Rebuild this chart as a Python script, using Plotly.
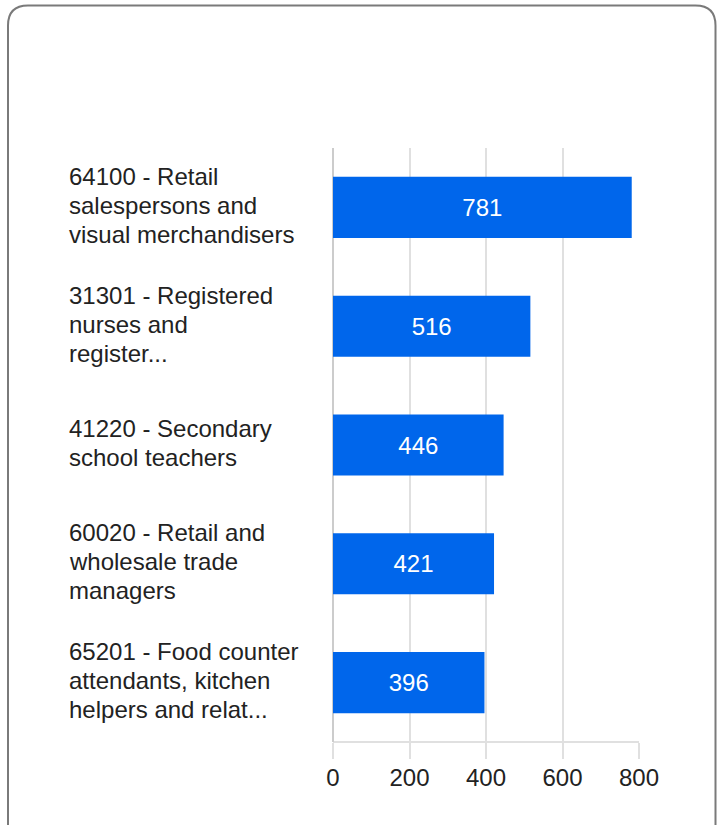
import plotly.graph_objects as go

categories = [
    "64100 - Retail<br>salespersons and<br>visual merchandisers",
    "31301 - Registered<br>nurses and<br>register...",
    "41220 - Secondary<br>school teachers",
    "60020 - Retail and<br>wholesale trade<br>managers",
    "65201 - Food counter<br>attendants, kitchen<br>helpers and relat...",
]
values = [781, 516, 446, 421, 396]
x_ticks = [0, 200, 400, 600, 800]

W, H = 717, 825
L, R, T, B = 333, 78, 148, 83
pw, ph = W - L - R, H - T - B
FONT = "Liberation Sans, Arial, sans-serif"

def px(x):
    return (x - L) / pw

def py(y):
    return 1 - (y - T) / ph

ids = [str(i) for i in range(len(categories))]

fig = go.Figure(go.Bar(
    y=ids, x=values, orientation="h",
    marker=dict(color="#0066EB", line=dict(width=0)),
    text=[str(v) for v in values], textposition="inside",
    insidetextanchor="middle",
    textfont=dict(color="white", size=24, family=FONT),
    hoverinfo="skip",
))

annotations = []
LH = 29
for i, lab in enumerate(categories):
    lines = lab.split("<br>")
    n = len(lines)
    for j, line in enumerate(lines):
        annotations.append(dict(
            x=px(67), xref="paper", y=ids[i], yref="y",
            text=line, showarrow=False, xanchor="left", align="left",
            yanchor="middle", yshift=((n - 1) / 2 - j) * LH + 2,
            font=dict(size=24, color="#222222", family=FONT),
        ))

# card border (rounded rectangle)
x0, y0, x1, y1, r = 8, 5.5, 715.5, 845, 20
path = (f"M {px(x0)},{py(y0 + r)} "
        f"Q {px(x0)},{py(y0)} {px(x0 + r)},{py(y0)} "
        f"L {px(x1 - r)},{py(y0)} "
        f"Q {px(x1)},{py(y0)} {px(x1)},{py(y0 + r)} "
        f"L {px(x1)},{py(y1)} L {px(x0)},{py(y1)} Z")

fig.update_layout(
    width=W, height=H,
    margin=dict(l=L, r=R, t=T, b=B, pad=0),
    paper_bgcolor="white", plot_bgcolor="white",
    bargap=0.486,
    showlegend=False,
    annotations=annotations,
    shapes=[dict(type="path", path=path, xref="paper", yref="paper",
                 line=dict(color="#7a7a7a", width=2), fillcolor="rgba(0,0,0,0)",
                 layer="below")],
    xaxis=dict(range=[0, 800], tickvals=x_ticks, ticktext=[str(t) for t in x_ticks],
               showgrid=True, gridcolor="#e0e0e0", gridwidth=2,
               zeroline=True, zerolinecolor="#cccccc", zerolinewidth=2,
               ticks="outside", ticklen=16, tickcolor="#e0e0e0", tickwidth=2,
               ticklabelstandoff=-2,
               showline=False, fixedrange=True,
               tickfont=dict(size=24, color="#222222", family=FONT)),
    yaxis=dict(autorange="reversed", showticklabels=False, showgrid=False,
               zeroline=False, ticks="", fixedrange=True),
)
fig.add_shape(type="line", xref="x", yref="paper", x0=0, x1=800, y0=0, y1=0,
              line=dict(color="#e0e0e0", width=2), layer="below")

fig.write_html("out.html", config={"displayModeBar": False},
               post_script="document.body.style.margin='0';")
